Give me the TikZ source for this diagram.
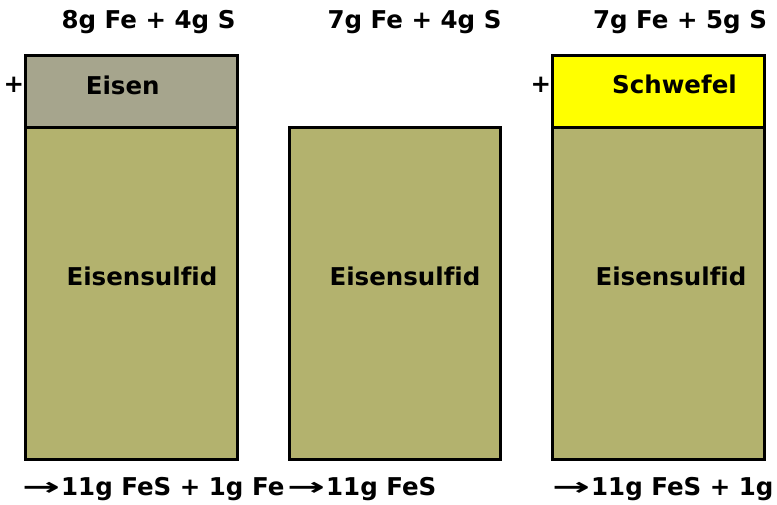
\documentclass[tikz,border=0pt]{standalone}
\usepackage{fontspec}
\setmainfont{DejaVu Sans}[Ligatures=NoCommon]
\definecolor{eisen}{HTML}{A6A58D}
\definecolor{sulfid}{HTML}{B3B26E}
\definecolor{schwefel}{HTML}{FFFF00}
\newcommand{\longarr}{\scalebox{1.85}[1]{→}\kern1pt}
\begin{document}
\begin{tikzpicture}[x=1pt,y=-1pt,
  box/.style={draw=black,line width=3.2pt,inner sep=0pt,anchor=north west},
  lbl/.style={font=\fontsize{24.5}{28}\selectfont\bfseries,inner sep=0pt,anchor=base}]
\useasboundingbox (0,0) rectangle (777,504);
% column 1
\node[box,fill=eisen,minimum width=212pt,minimum height=72pt] (e1) at (24,54) {};
\node[box,fill=sulfid,minimum width=212pt,minimum height=332pt] (s1) at (24,126) {};
% column 2
\node[box,fill=sulfid,minimum width=211pt,minimum height=332pt] (s2) at (288,126) {};
% column 3
\node[box,fill=schwefel,minimum width=212pt,minimum height=72pt] (w3) at (551,54) {};
\node[box,fill=sulfid,minimum width=212pt,minimum height=332pt] (s3) at (551,126) {};
% top labels
\node[lbl] (t1) at (148.5,28) {8g Fe + 4g S};
\node[lbl] (t2) at (414.5,28) {7g Fe + 4g S};
\node[lbl] (t3) at (680,28) {7g Fe + 5g S};
% box labels
\node[lbl] (l1) at (122.7,94) {Eisen};
\node[lbl] (l3) at (674.5,93.5) {Schwefel};
\node[lbl] (m1) at (142,285) {Eisensulfid};
\node[lbl] (m2) at (405,285) {Eisensulfid};
\node[lbl] (m3) at (671,285) {Eisensulfid};
% plus signs
\node[lbl] (p1) at (14,92) {+};
\node[lbl] (p3) at (541,92) {+};
% bottom labels
\node[lbl,anchor=base west] (b1) at (22,495) {\longarr 11g FeS + 1g Fe};
\node[lbl,anchor=base west] (b2) at (287,495) {\longarr 11g FeS};
\node[lbl,anchor=base west] (b3) at (552,495) {\longarr 11g FeS + 1g};
\end{tikzpicture}
\end{document}
